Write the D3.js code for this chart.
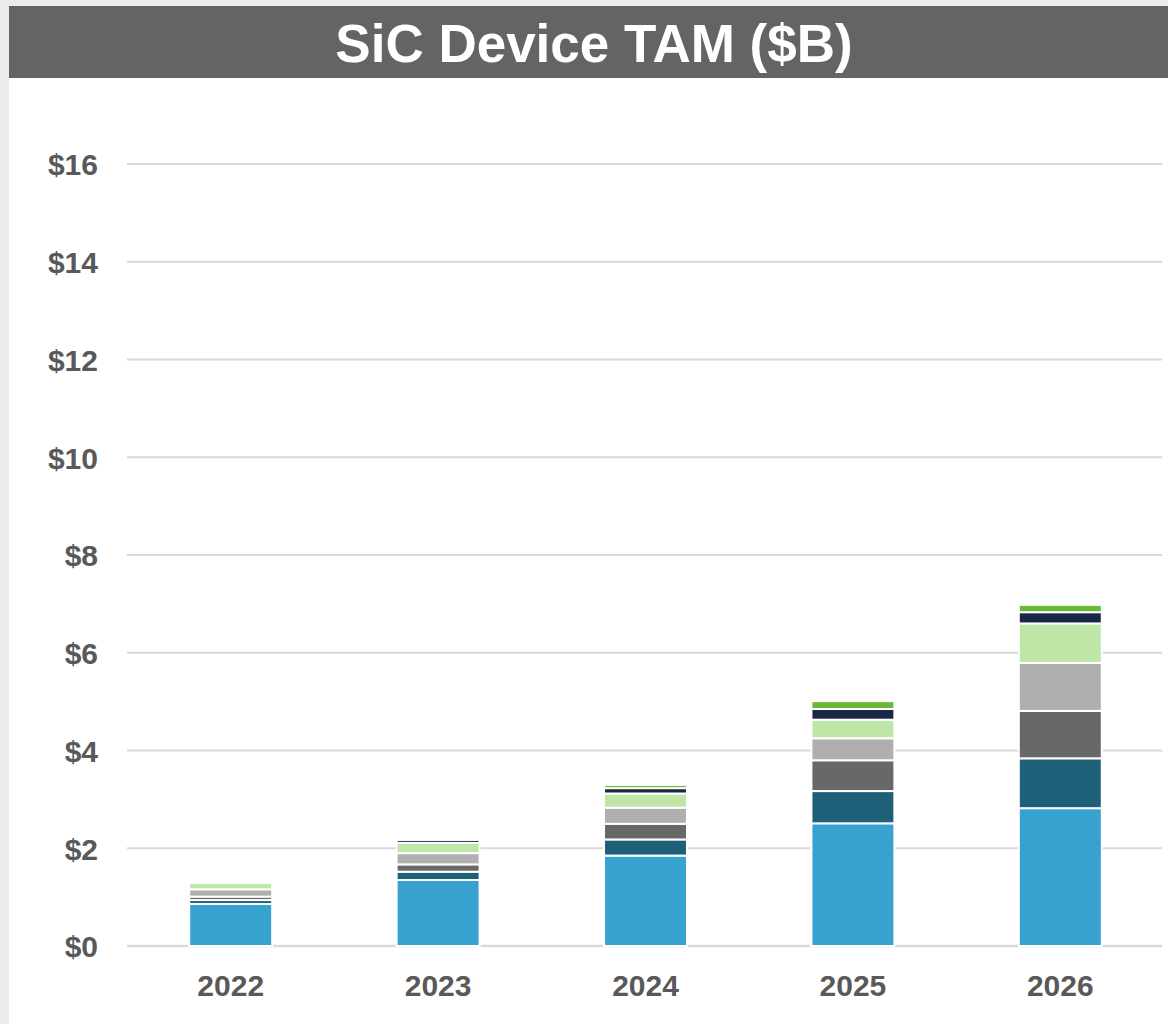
<!DOCTYPE html>
<html>
<head>
<meta charset="utf-8">
<script src="https://cdn.jsdelivr.net/npm/d3@7"></script>
<style>
  html, body { margin: 0; padding: 0; background: #fff; }
  svg { display: block; }
</style>
</head>
<body>
<svg id="chart" width="1168" height="1024"></svg>
<script>
const title = "SiC Device TAM ($B)";
const years = ["2022", "2023", "2024", "2025", "2026"];
const seriesNames = ["s1", "s2", "s3", "s4", "s5", "s6", "s7"];
const seriesColors = ["#37a1d0", "#1f6079", "#686868", "#afafaf", "#bfe6a6", "#1b2845", "#69b934"];
const s1 = [0.86, 1.35, 1.85, 2.51, 2.82];
const s2 = [0.08, 0.17, 0.33, 0.66, 1.02];
const s3 = [0.07, 0.15, 0.32, 0.63, 0.97];
const s4 = [0.15, 0.23, 0.33, 0.45, 0.98];
const s5 = [0.13, 0.21, 0.29, 0.38, 0.81];
const s6 = [0.00, 0.06, 0.11, 0.22, 0.23];
const s7 = [0.00, 0.00, 0.065, 0.16, 0.15];
const yTicks = [0, 2, 4, 6, 8, 10, 12, 14, 16];

const seriesValues = [s1, s2, s3, s4, s5, s6, s7];
const rows = years.map((y, i) => {
  const r = { year: y };
  seriesNames.forEach((n, k) => r[n] = seriesValues[k][i]);
  return r;
});

const svg = d3.select("#chart");
const W = 1168, H = 1024;

// page frame (light gray left & top edges)
svg.append("rect").attr("x", 0).attr("y", 0).attr("width", W).attr("height", H).attr("fill", "#ffffff");
svg.append("rect").attr("x", 0).attr("y", 0).attr("width", 9).attr("height", H).attr("fill", "#ebebeb");
svg.append("rect").attr("x", 0).attr("y", 0).attr("width", W).attr("height", 6).attr("fill", "#ebebeb");

// title bar
svg.append("rect").attr("x", 9).attr("y", 6).attr("width", W - 9).attr("height", 72).attr("fill", "#646464");
svg.append("text").attr("x", 594).attr("y", 62)
  .attr("text-anchor", "middle")
  .attr("font-family", "Liberation Sans, Arial, sans-serif")
  .attr("font-weight", "bold").attr("font-size", 53)
  .attr("fill", "#ffffff").text(title);

const x = d3.scaleBand().domain(years).range([127, 1164]).paddingInner(0.6).paddingOuter(0.3);
const y = d3.scaleLinear().domain([0, 16]).range([946, 164]);

// gridlines
svg.append("g").selectAll("line").data(yTicks).join("line")
  .attr("x1", 127).attr("x2", 1162)
  .attr("y1", d => y(d)).attr("y2", d => y(d))
  .attr("stroke", "#d9d9d9").attr("stroke-width", d => d === 0 ? 2.5 : 2);

// y axis labels
const yAxis = d3.axisLeft(y).tickValues(yTicks).tickSize(0).tickPadding(0).tickFormat(d => "$" + d);
const gy = svg.append("g").attr("transform", "translate(98,0)").call(yAxis);
gy.select(".domain").remove();
gy.selectAll("text")
  .attr("font-family", "Liberation Sans, Arial, sans-serif")
  .attr("font-weight", "bold").attr("font-size", 30)
  .attr("fill", "#595959").attr("dy", "0.36em");

// x axis labels
const xAxis = d3.axisBottom(x).tickSize(0).tickPadding(0);
const gx = svg.append("g").attr("transform", "translate(0,946)").call(xAxis);
gx.select(".domain").remove();
gx.selectAll("text")
  .attr("font-family", "Liberation Sans, Arial, sans-serif")
  .attr("font-weight", "bold").attr("font-size", 30)
  .attr("fill", "#595959").attr("y", 50).attr("dy", 0);

// stacked bars
const stack = d3.stack().keys(seriesNames);
const stacked = stack(rows);
svg.append("g").selectAll("g").data(stacked).join("g")
  .attr("fill", (d, i) => seriesColors[i])
  .selectAll("rect").data(d => d).join("rect")
  .attr("x", d => x(d.data.year))
  .attr("width", x.bandwidth())
  .attr("y", d => y(d[1]))
  .attr("height", d => Math.max(0, y(d[0]) - y(d[1])))
  .attr("stroke", "#ffffff").attr("stroke-width", d => (d[1] - d[0]) > 0 ? 2 : 0);
</script>
</body>
</html>
